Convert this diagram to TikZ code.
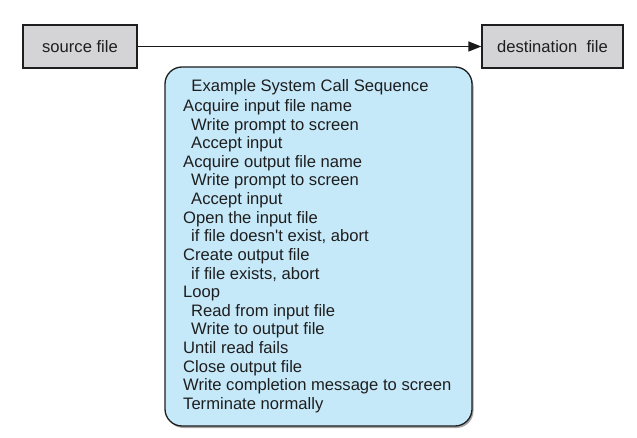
\documentclass[tikz,border=0pt]{standalone}
\usepackage{fontspec}
\setmainfont{Liberation Sans}[Ligatures=ResetAll]
\usetikzlibrary{arrows.meta}
\definecolor{filegray}{RGB}{212,212,214}
\definecolor{seqblue}{RGB}{198,233,250}
\definecolor{inkgray}{RGB}{30,30,30}
% upright typewriter-style apostrophe, taken straight from the font's glyph table
\newcommand\uprightquote{\XeTeXglyph\XeTeXglyphindex "quotesingle"\relax}
\begin{document}
\begin{tikzpicture}[x=1pt,y=-1pt,
  filebox/.style={draw=inkgray,line width=1.3pt,fill=filegray,minimum height=43pt,
    inner sep=0pt,font=\fontsize{16.6}{18}\selectfont,text=inkgray},
  seqline/.style={anchor=base west,inner sep=0pt,font=\fontsize{16.6}{18}\selectfont,text=inkgray},
  flow/.style={line width=1.5pt,draw=black!90,-{Triangle[length=13pt,width=10pt]}}]
  \useasboundingbox (0,0) rectangle (637,438);
  % file boxes and the copy arrow
  \node[filebox,minimum width=114pt] (src) at (80,46.5) {source file};
  \node[filebox,minimum width=141pt] (dst) at (552.5,46.5) {destination\ \ file};
  \draw[flow] (src.east) -- (dst.west);
  % call sequence panel
  \fill[black!35,rounded corners=17pt] (166.5,69.5) rectangle (473.5,428);
  \draw[draw=inkgray,line width=1.3pt,fill=seqblue,rounded corners=17pt] (165,67) rectangle (472,426);
  \node[anchor=base,inner sep=0pt,font=\fontsize{16.6}{18}\selectfont,text=inkgray] (title) at (310,91.5) {Example System Call Sequence};
  \foreach \t/\ind [count=\i] in {
    Acquire input file name/0,
    Write prompt to screen/1,
    Accept input/1,
    Acquire output file name/0,
    Write prompt to screen/1,
    Accept input/1,
    Open the input file/0,
    if file doesn\uprightquote t exist{,} abort/1,
    Create output file/0,
    if file exists{,} abort/1,
    Loop/0,
    Read from input file/1,
    Write to output file/1,
    Until read fails/0,
    Close output file/0,
    Write completion message to screen/0,
    Terminate normally/0}
    \node[seqline] (line\i) at ({183+8*\ind},{111.5+18.62*(\i-1)}) {\t};
\end{tikzpicture}
\end{document}
